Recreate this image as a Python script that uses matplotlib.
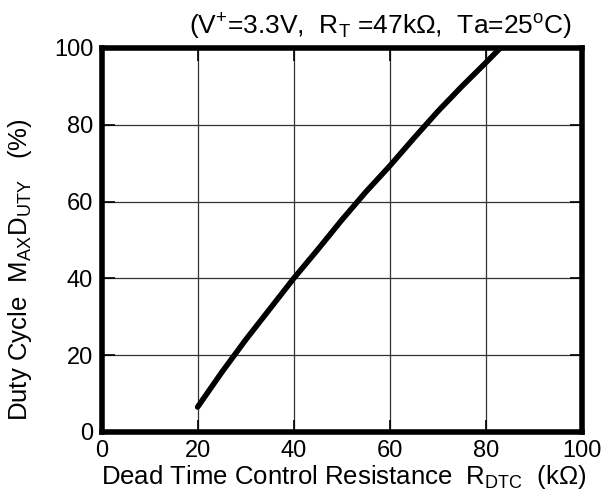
import matplotlib
matplotlib.use('Agg')
import matplotlib.pyplot as plt

plt.rcParams['font.family'] = ['Liberation Sans', 'DejaVu Sans']
plt.rcParams['mathtext.fontset'] = 'custom'
plt.rcParams['mathtext.rm'] = 'Liberation Sans'
plt.rcParams['mathtext.it'] = 'Liberation Sans'
plt.rcParams['mathtext.default'] = 'regular'

r_dtc = [20, 25, 30, 35, 40, 45, 50, 55, 60, 65, 70, 75, 80, 83]
max_duty = [6.5, 15.5, 24, 32, 40, 47.5, 55.2, 62.5, 69.3, 76.5, 83.5, 90, 96.2, 100]

x_ticks = [0, 20, 40, 60, 80, 100]
y_ticks = [0, 20, 40, 60, 80, 100]

fig = plt.figure(figsize=(6.04, 5.04), dpi=100)
ax = fig.add_axes((101.5 / 604, 1 - 432 / 504, (582 - 101.5) / 604, (432 - 48) / 504))

ax.plot(r_dtc, max_duty, color='black', linewidth=4, solid_capstyle='round')

ax.set_xlim(0, 100)
ax.set_ylim(0, 100)
ax.set_xticks(x_ticks)
ax.set_yticks(y_ticks)
ax.grid(True, color='#333333', linewidth=0.9)
ax.tick_params(direction='in', length=9, width=1.2, top=True, right=True,
               labelsize=17, pad=6)
for s in ax.spines.values():
  s.set_linewidth(4)

fig.text(380 / 604, 1 - 34 / 504,
         '(V$^{+}$=3.3V,  R$_{T}$ =47k$\\Omega$,  Ta=25$^{o}$C)',
         ha='center', va='baseline', fontsize=19)
fig.text(344 / 604, 1 - 484 / 504,
         'Dead Time Control Resistance  R$_{DTC}$  (k$\\Omega$)',
         ha='center', va='baseline', fontsize=18.5)
fig.text(20 / 604, 1 - 270 / 504,
         'Duty Cycle  M$_{AX}$D$_{UTY}$   (%)',
         ha='center', va='center', rotation=90, fontsize=18.5)

fig.savefig('out.png', dpi=100)
